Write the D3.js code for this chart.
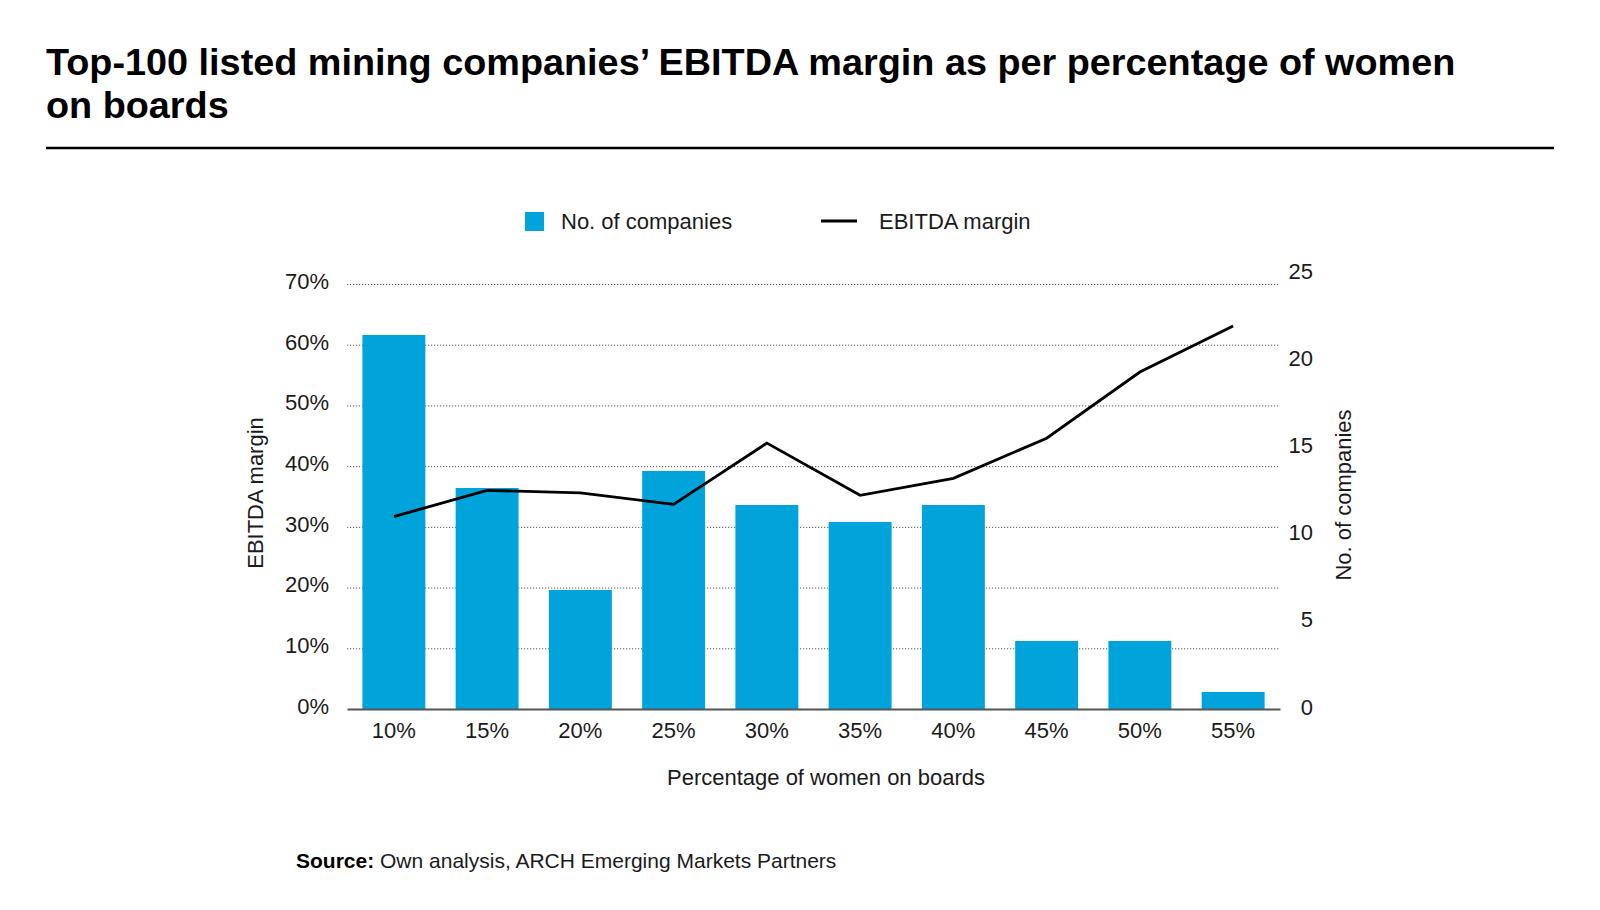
<!DOCTYPE html>
<html>
<head>
<meta charset="utf-8">
<script src="https://cdn.jsdelivr.net/npm/d3@7"></script>
<style>
  body { margin: 0; background: #fff; }
  text { font-family: "Liberation Sans", Arial, sans-serif; fill: #1a1a1a; }
</style>
</head>
<body>
<div id="chart-area"></div>
<script>
// data
const categories = ["10%", "15%", "20%", "25%", "30%", "35%", "40%", "45%", "50%", "55%"]
const companies = [22, 13, 7, 14, 12, 11, 12, 4, 4, 1]
const ebitdaMargin = [31.7, 36.0, 35.6, 33.7, 43.8, 35.2, 38.0, 44.6, 55.5, 63.1]
const leftTicks = [0, 10, 20, 30, 40, 50, 60, 70]
const rightTicks = [0, 5, 10, 15, 20, 25]

const W = 1600, H = 910
const PLOT = { LEFT: 347, RIGHT: 1280, TOP: 284, BOTTOM: 709 }
const BAR_COLOR = "#00a3da"

const svg = d3.select("#chart-area")
  .append("svg")
    .attr("width", W)
    .attr("height", H)

// title
const title = svg.append("text")
  .attr("x", 46)
  .attr("font-size", "37.8px")
  .attr("font-weight", "bold")
  .style("fill", "#000")
title.append("tspan").attr("x", 46).attr("y", 75)
  .text("Top-100 listed mining companies’ EBITDA margin as per percentage of women")
title.append("tspan").attr("x", 46).attr("y", 118)
  .text("on boards")

svg.append("line")
  .attr("x1", 46).attr("x2", 1554)
  .attr("y1", 148).attr("y2", 148)
  .attr("stroke", "#000")
  .attr("stroke-width", 2.5)

// scales
const x = d3.scaleBand()
  .domain(categories)
  .range([PLOT.LEFT, PLOT.RIGHT])
  .paddingInner(0.325)
  .paddingOuter(0.165)

const yLeft = d3.scaleLinear()
  .domain([0, 70])
  .range([PLOT.BOTTOM, PLOT.TOP])

const yRight = d3.scaleLinear()
  .domain([0, 25])
  .range([PLOT.BOTTOM, PLOT.TOP])

// the right tick labels sit a little off the gridlines in the original
const yRightLabels = d3.scaleLinear()
  .domain([0, 25])
  .range([PLOT.BOTTOM - 2, PLOT.TOP - 13])

// gridlines
svg.append("g")
  .attr("class", "grid")
  .attr("transform", `translate(${PLOT.LEFT}, 0)`)
  .call(d3.axisLeft(yLeft)
    .tickValues(leftTicks.filter(d => d > 0))
    .tickSize(-(PLOT.RIGHT - PLOT.LEFT))
    .tickFormat(""))
  .call(g => g.select(".domain").remove())
  .call(g => g.selectAll("line")
    .attr("stroke", "#555")
    .attr("stroke-width", 1)
    .attr("stroke-dasharray", "1.2,1.8"))

// left axis labels
svg.append("g")
  .attr("transform", `translate(${PLOT.LEFT - 18}, 0)`)
  .call(d3.axisLeft(yLeft)
    .tickValues(leftTicks)
    .tickSize(0)
    .tickPadding(0)
    .tickFormat(d => d + "%"))
  .call(g => g.select(".domain").remove())
  .call(g => g.selectAll("text")
    .attr("font-size", "22px")
    .attr("font-family", null)
    .attr("dy", "0.2em"))

// right axis labels
svg.append("g")
  .attr("transform", `translate(${PLOT.RIGHT + 33}, 0)`)
  .call(d3.axisLeft(yRightLabels)
    .tickValues(rightTicks)
    .tickSize(0)
    .tickPadding(0))
  .call(g => g.select(".domain").remove())
  .call(g => g.selectAll("text")
    .attr("font-size", "22px")
    .attr("font-family", null)
    .attr("dy", "0.32em"))

// bars
svg.append("g")
  .selectAll("rect")
  .data(companies)
  .enter().append("rect")
    .attr("x", (d, i) => x(categories[i]))
    .attr("y", d => yRight(d))
    .attr("width", x.bandwidth())
    .attr("height", d => PLOT.BOTTOM - yRight(d))
    .attr("fill", BAR_COLOR)

// x axis
svg.append("g")
  .attr("transform", `translate(0, ${PLOT.BOTTOM})`)
  .call(d3.axisBottom(x).tickSize(0).tickPadding(13))
  .call(g => g.select(".domain")
    .attr("stroke", "#555")
    .attr("stroke-width", 2.2))
  .call(g => g.selectAll("text")
    .attr("font-size", "22px")
    .attr("font-family", null))

// ebitda line
const line = d3.line()
  .x((d, i) => x(categories[i]) + x.bandwidth() / 2)
  .y(d => yLeft(d))

svg.append("path")
  .datum(ebitdaMargin)
  .attr("d", line)
  .attr("fill", "none")
  .attr("stroke", "#000")
  .attr("stroke-width", 2.8)
  .attr("stroke-linejoin", "miter")

// axis titles
svg.append("text")
  .attr("transform", "translate(263, 493) rotate(-90)")
  .attr("text-anchor", "middle")
  .attr("font-size", "22px")
  .text("EBITDA margin")

svg.append("text")
  .attr("transform", "translate(1351, 495) rotate(-90)")
  .attr("text-anchor", "middle")
  .attr("font-size", "22px")
  .text("No. of companies")

svg.append("text")
  .attr("x", 826)
  .attr("y", 785)
  .attr("text-anchor", "middle")
  .attr("font-size", "22px")
  .text("Percentage of women on boards")

// legend
svg.append("rect")
  .attr("x", 525).attr("y", 212)
  .attr("width", 19).attr("height", 19)
  .attr("fill", BAR_COLOR)
svg.append("text")
  .attr("x", 561).attr("y", 229)
  .attr("font-size", "22px")
  .text("No. of companies")
svg.append("line")
  .attr("x1", 821).attr("x2", 857)
  .attr("y1", 221).attr("y2", 221)
  .attr("stroke", "#000")
  .attr("stroke-width", 3)
svg.append("text")
  .attr("x", 879).attr("y", 229)
  .attr("font-size", "22px")
  .text("EBITDA margin")

// source
const source = svg.append("text")
  .attr("x", 296).attr("y", 868)
  .attr("font-size", "21px")
source.append("tspan").attr("font-weight", "bold").style("fill", "#000").text("Source:")
source.append("tspan").text(" Own analysis, ARCH Emerging Markets Partners")
</script>
</body>
</html>
